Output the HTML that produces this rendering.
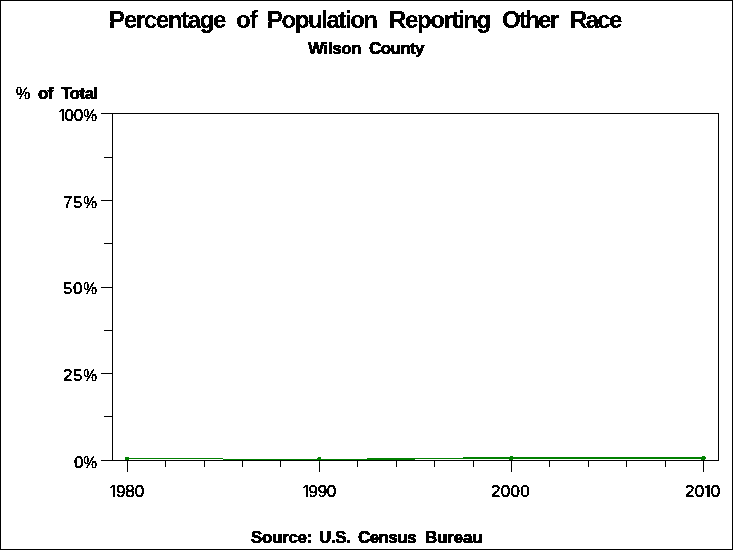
<!DOCTYPE html>
<html><head><meta charset="utf-8"><title>Percentage of Population Reporting Other Race</title><style>
html,body{margin:0;padding:0;background:#fff;}
body{width:733px;height:550px;position:relative;overflow:hidden;font-family:"Liberation Sans",sans-serif;color:#000;}
.t{position:absolute;white-space:pre;line-height:1;}
.ft{filter:url(#ft);font-size:24px;font-weight:bold;-webkit-text-stroke:0.2px #000}
.fb{filter:url(#fb);font-size:17px;font-weight:bold;-webkit-text-stroke:0.6px #000}
.fn{filter:url(#fn);font-size:17px;-webkit-text-stroke:0.4px #000}
.one{display:inline-block;line-height:1;margin-left:-1.0px;margin-right:-2.6px;clip-path:polygon(0 0,100% 0,100% 12.3px,6.25px 12.3px,6.25px 100%,3.8px 100%,3.8px 12.3px,0 12.3px);}
.pc{display:inline-block;line-height:1;transform:scaleX(0.92);transform-origin:100% 50%;margin-left:-1.2px;}
</style></head><body>
<svg width="733" height="550" shape-rendering="crispEdges" style="position:absolute;left:0;top:0"><defs><filter id="ft" x="-20%" y="-20%" width="140%" height="140%" color-interpolation-filters="sRGB"><feComponentTransfer><feFuncA type="discrete" tableValues="0 1"/></feComponentTransfer></filter><filter id="fb" x="-20%" y="-20%" width="140%" height="140%" color-interpolation-filters="sRGB"><feComponentTransfer><feFuncA type="discrete" tableValues="0 1"/></feComponentTransfer></filter><filter id="fn" x="-20%" y="-20%" width="140%" height="140%" color-interpolation-filters="sRGB"><feComponentTransfer><feFuncA type="discrete" tableValues="0 1"/></feComponentTransfer></filter></defs><rect x="0" y="0" width="733" height="1" fill="#000"/><rect x="0" y="549" width="733" height="1" fill="#000"/><rect x="0" y="0" width="1" height="550" fill="#000"/><rect x="732" y="0" width="1" height="550" fill="#000"/><rect x="112" y="113" width="1" height="348" fill="#000"/><rect x="718" y="113" width="1" height="348" fill="#000"/><rect x="101" y="113" width="618" height="1" fill="#000"/><rect x="101" y="460" width="618" height="1" fill="#000"/><rect x="101" y="113" width="12" height="1" fill="#000"/><rect x="104" y="157" width="9" height="1" fill="#000"/><rect x="101" y="200" width="12" height="1" fill="#000"/><rect x="104" y="243" width="9" height="1" fill="#000"/><rect x="101" y="287" width="12" height="1" fill="#000"/><rect x="104" y="330" width="9" height="1" fill="#000"/><rect x="101" y="373" width="12" height="1" fill="#000"/><rect x="104" y="416" width="9" height="1" fill="#000"/><rect x="101" y="460" width="12" height="1" fill="#000"/><rect x="127" y="460" width="1" height="12" fill="#000"/><rect x="165" y="460" width="1" height="7" fill="#000"/><rect x="204" y="460" width="1" height="7" fill="#000"/><rect x="242" y="460" width="1" height="7" fill="#000"/><rect x="280" y="460" width="1" height="7" fill="#000"/><rect x="319" y="460" width="1" height="12" fill="#000"/><rect x="357" y="460" width="1" height="7" fill="#000"/><rect x="396" y="460" width="1" height="7" fill="#000"/><rect x="434" y="460" width="1" height="7" fill="#000"/><rect x="473" y="460" width="1" height="7" fill="#000"/><rect x="511" y="460" width="1" height="12" fill="#000"/><rect x="549" y="460" width="1" height="7" fill="#000"/><rect x="588" y="460" width="1" height="7" fill="#000"/><rect x="626" y="460" width="1" height="7" fill="#000"/><rect x="665" y="460" width="1" height="7" fill="#000"/><rect x="703" y="460" width="1" height="12" fill="#000"/><rect x="127" y="458" width="96" height="1" fill="#008000"/><rect x="223" y="459" width="144" height="1" fill="#008000"/><rect x="367" y="458" width="48" height="2" fill="#008000"/><rect x="415" y="458" width="48" height="1" fill="#008000"/><rect x="463" y="457" width="241" height="2" fill="#008000"/><rect x="125" y="457" width="4" height="3" fill="#008000"/><rect x="318" y="457" width="3" height="1" fill="#008000"/><rect x="317" y="458" width="4" height="1" fill="#008000"/><rect x="319" y="461" width="1" height="1" fill="#008000"/><rect x="510" y="456" width="3" height="1" fill="#008000"/><rect x="509" y="457" width="4" height="3" fill="#008000"/><rect x="702" y="456" width="3" height="1" fill="#008000"/><rect x="701" y="457" width="5" height="2" fill="#008000"/><rect x="701" y="459" width="4" height="1" fill="#008000"/></svg>
<div id="title"><span class="t ft" style="left:109px;top:8px;letter-spacing:-1.33px">Percentage</span> <span class="t ft" style="left:236px;top:8px;letter-spacing:-1.0px">of</span> <span class="t ft" style="left:267px;top:8px;letter-spacing:-1.44px">Population</span> <span class="t ft" style="left:389px;top:8px;letter-spacing:-1.38px">Reporting</span> <span class="t ft" style="left:502px;top:8px;letter-spacing:-1.75px">Other</span> <span class="t ft" style="left:570px;top:8px;letter-spacing:-1.67px">Race</span></div>
<div id="subtitle"><span class="t fb" style="left:308px;top:40px;letter-spacing:-0.4px">Wilson</span> <span class="t fb" style="left:369px;top:40px;letter-spacing:-0.6px">County</span></div>
<div id="ylabel"><span class="t fn" style="left:16px;top:85px;letter-spacing:0.0px"><span style="display:inline-block;line-height:1;transform:scaleX(0.94);transform-origin:0 50%">%</span></span> <span class="t fb" style="left:38px;top:85px;letter-spacing:-1.0px">of</span> <span class="t fb" style="left:61px;top:85px;letter-spacing:-0.5px">Total</span></div>
<div id="footnote"><span class="t fb" style="left:251px;top:529px;letter-spacing:-0.33px">Source:</span> <span class="t fb" style="left:319px;top:529px;letter-spacing:-0.33px">U.S.</span> <span class="t fb" style="left:358px;top:529px;letter-spacing:-0.6px">Census</span> <span class="t fb" style="left:425px;top:529px;letter-spacing:-0.2px">Bureau</span></div>
<div id="yaxis"><span class="t fn" style="left:59px;top:107px;letter-spacing:-0.33px"><span class="one">1</span>00<span class="pc">%</span></span> <span class="t fn" style="left:63px;top:194px;letter-spacing:0.5px">75<span class="pc">%</span></span> <span class="t fn" style="left:63px;top:280px;letter-spacing:0.5px">50<span class="pc">%</span></span> <span class="t fn" style="left:63px;top:367px;letter-spacing:0.5px">25<span class="pc">%</span></span> <span class="t fn" style="left:74px;top:454px;letter-spacing:0.0px">0<span class="pc">%</span></span></div>
<div id="xaxis"><span class="t fn" style="left:110px;top:483px;letter-spacing:0.0px"><span class="one">1</span>980</span> <span class="t fn" style="left:303px;top:483px;letter-spacing:-0.33px"><span class="one">1</span>990</span> <span class="t fn" style="left:491px;top:483px;letter-spacing:0.33px">2000</span> <span class="t fn" style="left:685px;top:483px;letter-spacing:0.33px">20<span class="one">1</span>0</span></div>
</body></html>
